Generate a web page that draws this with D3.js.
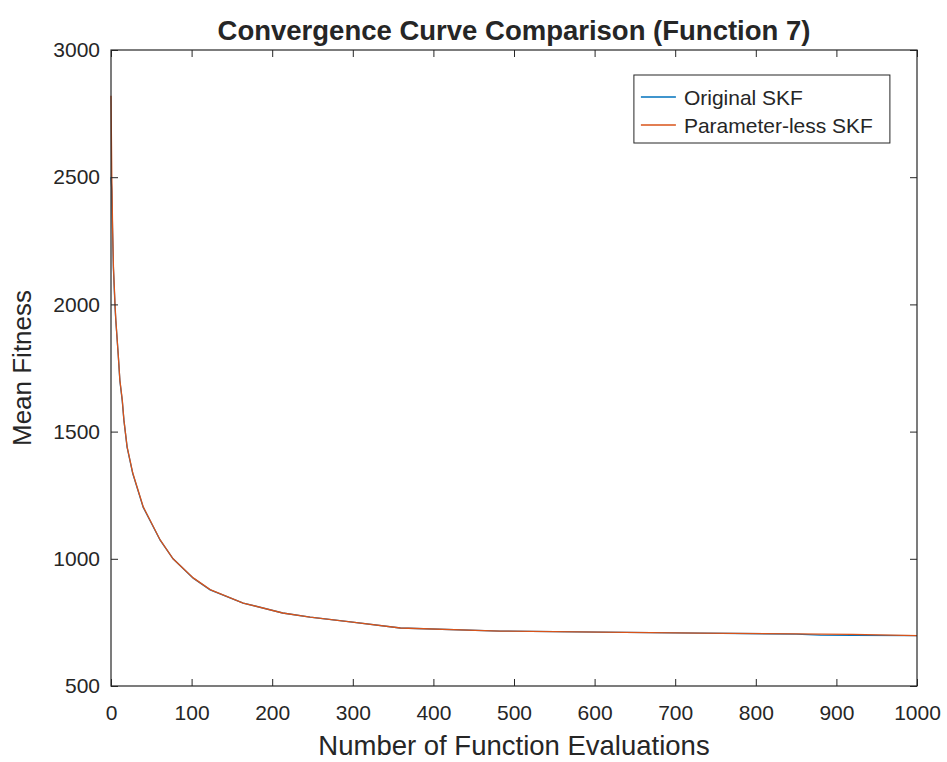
<!DOCTYPE html>
<html>
<head>
<meta charset="utf-8">
<script src="https://cdn.jsdelivr.net/npm/d3@7"></script>
<style>
    body { margin: 0; background: #fff; }
    text { font-family: "Liberation Sans", Arial, sans-serif; fill: #262626; }
</style>
</head>
<body>
<svg id="chart"></svg>
<script>
const evaluations = [0, 1, 2, 3, 5, 6, 9, 11, 14, 16, 20, 27, 40, 61, 77, 102, 123, 164, 213, 247, 297, 359, 483, 607, 731, 850, 880, 920, 1000];
const originalSKF = [2500, 2450, 2280, 2140, 1990, 1935, 1800, 1700, 1620, 1545, 1438, 1335, 1202, 1073, 1000, 924, 878, 826, 787, 771, 752, 728, 716, 712, 708, 704, 700, 699, 698];
const paramlessSKF = [2820, 2500, 2300, 2150, 2000, 1939, 1801, 1703, 1624, 1546, 1440, 1337, 1204, 1074, 1000, 925, 879, 826, 787, 771, 752, 728, 716, 712, 708, 705, 704, 703, 698];
const seriesNames = ['Original SKF', 'Parameter-less SKF'];
const seriesColors = ['#0072BD', '#D95319'];
const xTicks = [0, 100, 200, 300, 400, 500, 600, 700, 800, 900, 1000];
const yTicks = [500, 1000, 1500, 2000, 2500, 3000];

class LineChartVis {
    constructor(_config) {
        this.config = {
            parentElement: _config.parentElement,
            width: 806,
            height: 636,
            margin: { top: 50, right: 30, bottom: 76, left: 111 }
        };
        this.initVis();
    }

    initVis() {
        let vis = this;
        const containerWidth = vis.config.width + vis.config.margin.left + vis.config.margin.right;
        const containerHeight = vis.config.height + vis.config.margin.top + vis.config.margin.bottom;

        vis.svg = d3.select(vis.config.parentElement)
            .attr('width', containerWidth)
            .attr('height', containerHeight);

        vis.chart = vis.svg.append('g')
            .attr('transform', `translate(${vis.config.margin.left}, ${vis.config.margin.top})`);

        vis.xScale = d3.scaleLinear().domain([0, 1000]).range([0, vis.config.width]);
        vis.yScale = d3.scaleLinear().domain([500, 3000]).range([vis.config.height, 0]);
    }

    renderVis() {
        let vis = this;
        const w = vis.config.width, h = vis.config.height;

        // plot lines
        const series = [originalSKF, paramlessSKF];
        const line = d3.line()
            .x((d, i) => vis.xScale(evaluations[i]))
            .y(d => vis.yScale(d));
        series.forEach((s, k) => {
            vis.chart.append('path')
                .datum(s)
                .attr('fill', 'none')
                .attr('stroke', seriesColors[k])
                .attr('stroke-width', 1.3)
                .attr('d', line);
        });

        // axes, ticks pointing inward on all four sides
        const tickLen = 7;
        const fmt = d3.format('d');
        vis.chart.append('g')
            .attr('transform', `translate(0, ${h})`)
            .call(d3.axisBottom(vis.xScale).tickValues(xTicks).tickFormat(fmt).tickSizeInner(-tickLen).tickSizeOuter(0).tickPadding(19))
            .call(g => g.selectAll('text').style('font-size', '21px'));
        vis.chart.append('g')
            .call(d3.axisTop(vis.xScale).tickValues(xTicks).tickSizeInner(-tickLen).tickSizeOuter(0).tickFormat(''));
        vis.chart.append('g')
            .call(d3.axisLeft(vis.yScale).tickValues(yTicks).tickFormat(fmt).tickSizeInner(-tickLen).tickSizeOuter(0).tickPadding(11))
            .call(g => g.selectAll('text').style('font-size', '21px'));
        vis.chart.append('g')
            .attr('transform', `translate(${w}, 0)`)
            .call(d3.axisRight(vis.yScale).tickValues(yTicks).tickSizeInner(-tickLen).tickSizeOuter(0).tickFormat(''));
        vis.chart.selectAll('.domain').remove();
        vis.chart.selectAll('.tick line').attr('stroke', '#262626');
        vis.chart.selectAll('.tick text').attr('fill', '#262626').style('font-family', '"Liberation Sans", Arial, sans-serif');

        vis.chart.append('rect')
            .attr('width', w).attr('height', h)
            .attr('fill', 'none')
            .attr('stroke', '#262626')
            .attr('stroke-width', 1.2);

        // titles
        vis.svg.append('text')
            .attr('x', vis.config.margin.left + w / 2)
            .attr('y', 40)
            .attr('text-anchor', 'middle')
            .style('font-size', '27.5px')
            .style('font-weight', 'bold')
            .text('Convergence Curve Comparison (Function 7)');
        vis.svg.append('text')
            .attr('x', vis.config.margin.left + w / 2)
            .attr('y', 755)
            .attr('text-anchor', 'middle')
            .style('font-size', '27.5px')
            .text('Number of Function Evaluations');
        vis.svg.append('text')
            .attr('transform', `translate(31, ${vis.config.margin.top + h / 2}) rotate(-90)`)
            .attr('text-anchor', 'middle')
            .style('font-size', '26px')
            .text('Mean Fitness');

        // legend
        const legend = vis.chart.append('g')
            .attr('transform', `translate(${vis.xScale(650) - 1}, 25)`);
        legend.append('rect')
            .attr('width', 256).attr('height', 68)
            .attr('fill', '#fff')
            .attr('stroke', '#262626')
            .attr('stroke-width', 1);
        seriesNames.forEach((name, k) => {
            const y = 22 + k * 28;
            legend.append('line')
                .attr('x1', 7).attr('x2', 42)
                .attr('y1', y).attr('y2', y)
                .attr('stroke', seriesColors[k])
                .attr('stroke-width', 1.3);
            legend.append('text')
                .attr('x', 50).attr('y', y + 7.5)
                .style('font-size', '21px')
                .text(name);
        });
    }
}

const chart = new LineChartVis({ parentElement: '#chart' });
chart.renderVis();
</script>
</body>
</html>
